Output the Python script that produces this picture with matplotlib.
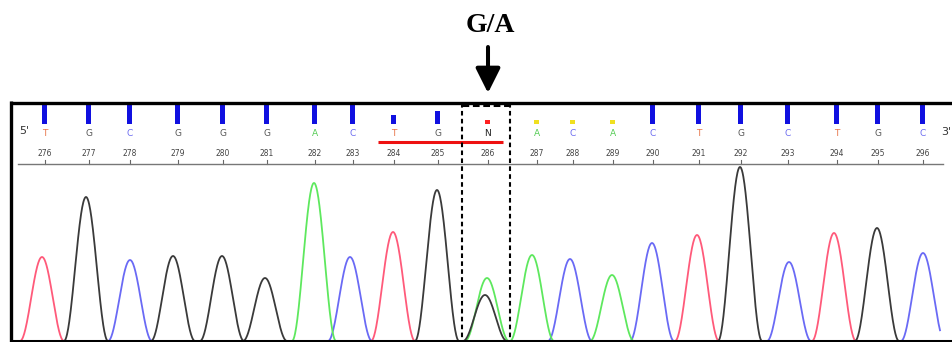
import numpy as np
import matplotlib
matplotlib.use("Agg")
import matplotlib.pyplot as plt

# ---------------- data ----------------
bases = ['T', 'G', 'C', 'G', 'G', 'G', 'A', 'C', 'T', 'G', 'N',
         'A', 'C', 'A', 'C', 'T', 'G', 'C', 'T', 'G', 'C']
numbers = [276, 277, 278, 279, 280, 281, 282, 283, 284, 285, 286,
           287, 288, 289, 290, 291, 292, 293, 294, 295, 296]
base_x = [45, 89, 130, 178, 223, 267, 315, 353, 394, 438, 488,
          537, 573, 613, 653, 699, 741, 788, 837, 878, 923]
quality = [19, 19, 19, 19, 19, 19, 19, 19, 9, 13, 4,
           4, 4, 4, 19, 19, 19, 19, 19, 19, 19]
quality_colors = ['#1010e0'] * 8 + ['#1010e0', '#1010e0', '#ff2020',
                  '#f0e020', '#f0e020', '#f0e020'] + ['#1010e0'] * 7

# chromatogram peaks: (channel, scan position, peak height)
peak_channel = ['T', 'G', 'C', 'G', 'G', 'G', 'A', 'C', 'T', 'G', 'A', 'G',
                'A', 'C', 'A', 'C', 'T', 'G', 'C', 'T', 'G', 'C']
peak_pos = [42, 86, 130, 173, 222, 265, 314, 350, 393, 437, 487, 485,
            532, 570, 612, 652, 697, 740, 789, 834, 877, 923]
peak_height = [84, 144, 81, 85, 85, 63, 158, 84, 109, 151, 63, 46,
               86, 82, 66, 98, 106, 174, 79, 108, 113, 88]

trace_colors = {'A': '#5ee85e', 'C': '#6a6af5', 'G': '#3a3a3a', 'T': '#ff5a7a'}
letter_colors = {'A': '#55cc55', 'C': '#6b6bf0', 'G': '#555555', 'T': '#e8764a', 'N': '#222222'}

# ---------------- figure ----------------
W, H = 953, 342
fig = plt.figure(figsize=(W / 100, H / 100), dpi=100)
ax = fig.add_axes([0, 0, 1, 1])
ax.set_xlim(0, W)
ax.set_ylim(H, 0)
ax.axis('off')

baseline = 341
half_base = 22.0
xs = np.linspace(18, 940, 2500)
for ch in ['T', 'C', 'A', 'G']:
    sig = np.zeros_like(xs)
    for c, p, h in zip(peak_channel, peak_pos, peak_height):
        if c == ch:
            d = np.clip(np.abs(xs - p) / half_base, 0, 1)
            sig += h * 0.5 * (1 + np.cos(np.pi * d))
    ax.plot(xs, baseline - sig, color=trace_colors[ch], lw=1.3, zorder=3)

# header: quality bars
ax.bar(base_x, [-q for q in quality], bottom=124, width=5,
       color=quality_colors, zorder=4)

# base letters and numbers
for x, b, n in zip(base_x, bases, numbers):
    ax.text(x, 133, b, ha='center', va='center', fontsize=6.5,
            color=letter_colors[b], family=['DejaVu Sans'])
    ax.text(x, 153, str(n), ha='center', va='center', fontsize=5.5,
            color='#444444', family=['Liberation Sans Narrow', 'DejaVu Sans'])
    ax.plot([x, x], [160, 163.5], color='#666666', lw=0.8)

# axis line of header
ax.plot([18, 943], [163.5, 163.5], color='#777777', lw=1.0)

ax.text(24, 131, "5'", ha='center', va='center', fontsize=8, color='#333333')
ax.text(946, 132, "3'", ha='center', va='center', fontsize=8, color='#333333')

# red underline
ax.plot([378, 503], [142, 142], color='#ee1111', lw=2.2, solid_capstyle='butt', zorder=5)

# frame
ax.plot([11.5, 11.5], [101, H], color='black', lw=2.4, solid_capstyle='butt', zorder=6)
ax.plot([10, W], [102.5, 102.5], color='black', lw=2.4, solid_capstyle='butt', zorder=6)
ax.plot([10, W], [341, 341], color='black', lw=2.2, solid_capstyle='butt', zorder=6)

# dashed box around the SNP
for xv in (462, 510):
    ax.plot([xv, xv], [103, H], color='black', lw=1.5, ls=(0, (2.2, 1.6)), zorder=6)
ax.plot([462, 510], [104.5, 104.5], color='black', lw=2.2, ls=(0, (2.2, 1.2)), zorder=6)

# label and arrow
ax.text(490, 26, 'G/A', ha='center', va='center', fontsize=20, fontweight='bold',
        family=['Liberation Serif', 'DejaVu Serif'], color='black')
ax.annotate('', xy=(488, 93), xytext=(488, 47),
            arrowprops=dict(arrowstyle='-|>,head_length=0.6,head_width=0.3',
                            lw=2.9, color='black', mutation_scale=25,
                            shrinkA=0, shrinkB=0))

fig.savefig('out.png', dpi=100)
